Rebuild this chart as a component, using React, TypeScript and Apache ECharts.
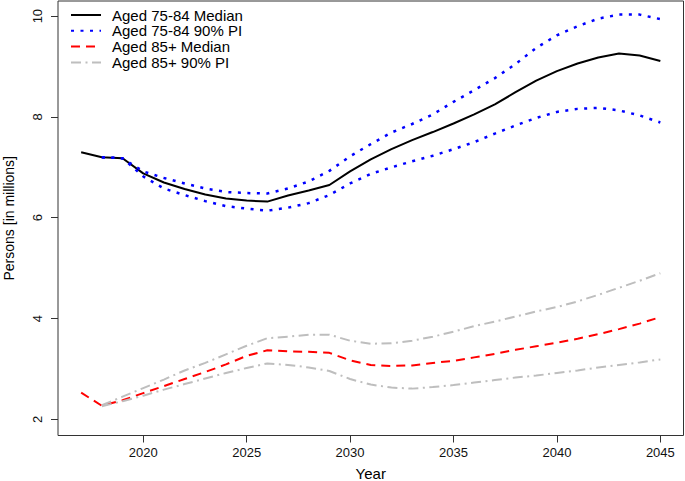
import React, { useEffect, useRef } from "react";
import * as echarts from "echarts";

const years = [2017, 2018, 2019, 2020, 2021, 2022, 2023, 2024, 2025, 2026, 2027, 2028, 2029, 2030, 2031, 2032, 2033, 2034, 2035, 2036, 2037, 2038, 2039, 2040, 2041, 2042, 2043, 2044, 2045];
const piYears = [2018, 2019, 2020, 2021, 2022, 2023, 2024, 2025, 2026, 2027, 2028, 2029, 2030, 2031, 2032, 2033, 2034, 2035, 2036, 2037, 2038, 2039, 2040, 2041, 2042, 2043, 2044, 2045];

const median7584 = [7.30, 7.20, 7.18, 6.88, 6.70, 6.57, 6.46, 6.38, 6.34, 6.32, 6.44, 6.54, 6.65, 6.92, 7.16, 7.36, 7.54, 7.70, 7.87, 8.05, 8.25, 8.49, 8.72, 8.91, 9.06, 9.18, 9.26, 9.22, 9.11];
const upper7584 = [7.20, 7.18, 6.92, 6.79, 6.68, 6.58, 6.51, 6.49, 6.48, 6.58, 6.72, 6.93, 7.22, 7.46, 7.69, 7.86, 8.05, 8.30, 8.53, 8.77, 9.05, 9.37, 9.62, 9.80, 9.95, 10.03, 10.03, 9.94];
const lower7584 = [7.20, 7.18, 6.82, 6.58, 6.45, 6.33, 6.23, 6.18, 6.14, 6.20, 6.29, 6.45, 6.68, 6.87, 7.00, 7.12, 7.23, 7.36, 7.50, 7.67, 7.83, 7.98, 8.10, 8.16, 8.18, 8.13, 8.03, 7.89];
const median85 = [2.53, 2.27, 2.38, 2.52, 2.66, 2.80, 2.94, 3.09, 3.26, 3.37, 3.35, 3.34, 3.32, 3.17, 3.08, 3.06, 3.07, 3.12, 3.16, 3.23, 3.30, 3.38, 3.45, 3.52, 3.60, 3.69, 3.79, 3.90, 4.03];
const upper85 = [2.28, 2.45, 2.62, 2.79, 2.97, 3.12, 3.29, 3.46, 3.61, 3.64, 3.68, 3.68, 3.56, 3.50, 3.51, 3.56, 3.64, 3.74, 3.85, 3.94, 4.04, 4.14, 4.23, 4.34, 4.47, 4.61, 4.75, 4.90];
const lower85 = [2.26, 2.36, 2.47, 2.59, 2.70, 2.81, 2.92, 3.02, 3.11, 3.08, 3.03, 2.96, 2.80, 2.69, 2.63, 2.61, 2.64, 2.68, 2.73, 2.78, 2.83, 2.87, 2.92, 2.97, 3.03, 3.08, 3.13, 3.19];

const xTicks = [2020, 2025, 2030, 2035, 2040, 2045];
const yTicks = [2, 4, 6, 8, 10];

const seriesNames = ["Aged 75-84 Median", "Aged 75-84 90% PI", "Aged 85+ Median", "Aged 85+ 90% PI"];

const pairs = (xs: number[], ys: number[]) => xs.map((x, i) => [x, ys[i]]);

export default function App() {
  const ref = useRef<HTMLDivElement>(null);
  useEffect(() => {
    if (!ref.current) return;
    const chart = echarts.init(ref.current, null, { renderer: "svg" });
    const font = "'Liberation Sans', Arial, Helvetica, sans-serif";
    const mk = (name: string, data: number[][], color: string, width: number, type: any) => ({
      name,
      type: "line",
      data,
      symbol: "none",
      showSymbol: false,
      smooth: false,
      silent: true,
      lineStyle: { color, width, type, cap: "butt" },
      itemStyle: { color },
    });
    const blueDash = [3, 6.5];
    const redDash = [9, 6];
    const grayDash = [10, 4.5, 2, 4.5];
    chart.setOption({
      animation: false,
      backgroundColor: "#ffffff",
      textStyle: { fontFamily: font },
      grid: {
        left: 58,
        right: 1.5,
        top: 1,
        bottom: 45.5,
        show: true,
        borderColor: "#333",
        borderWidth: 1,
        containLabel: false,
        outerBoundsMode: "none",
      },
      legend: {
        orient: "vertical",
        left: 70,
        top: 7.5,
        padding: 0,
        itemWidth: 30,
        itemHeight: 14,
        itemGap: 0.8,
        itemStyle: { opacity: 0 },
        data: seriesNames,
        textStyle: { fontSize: 15, color: "#000", fontFamily: font, padding: [0, 0, 0, 6], lineHeight: 14.8 },
      },
      xAxis: {
        type: "value",
        min: 2015.88,
        max: 2046.12,
        name: "Year",
        nameLocation: "middle",
        nameGap: 30,
        nameTextStyle: { fontSize: 15, color: "#000", fontFamily: font },
        axisLine: { show: false },
        axisTick: { show: true, length: 7, lineStyle: { color: "#333" }, customValues: xTicks },
        axisLabel: { fontSize: 13, color: "#111", margin: 10, customValues: xTicks, fontFamily: font, formatter: (v: number) => String(v) },
        splitLine: { show: false },
      },
      yAxis: {
        type: "value",
        min: 1.68,
        max: 10.3,
        name: "Persons [in millions]",
        nameLocation: "middle",
        nameGap: 42,
        nameTextStyle: { fontSize: 14, color: "#000", fontFamily: font },
        axisLine: { show: false },
        axisTick: { show: true, length: 7, lineStyle: { color: "#333" }, customValues: yTicks },
        axisLabel: { fontSize: 13, color: "#111", margin: 14, rotate: 90, customValues: yTicks, fontFamily: font, formatter: (v: number) => String(v) },
        splitLine: { show: false },
      },
      series: [
        mk(seriesNames[0], pairs(years, median7584), "#000000", 2, "solid"),
        mk(seriesNames[1], pairs(piYears, upper7584), "#0000ff", 2.5, blueDash),
        mk(seriesNames[1], pairs(piYears, lower7584), "#0000ff", 2.5, blueDash),
        mk(seriesNames[2], pairs(years, median85), "#ff0000", 2, redDash),
        mk(seriesNames[3], pairs(piYears, upper85), "#bebebe", 2, grayDash),
        mk(seriesNames[3], pairs(piYears, lower85), "#bebebe", 2, grayDash),
      ],
    });
    return () => chart.dispose();
  }, []);
  return <div ref={ref} style={{ width: 685, height: 481, position: "absolute", left: 0, top: 0 }} />;
}
